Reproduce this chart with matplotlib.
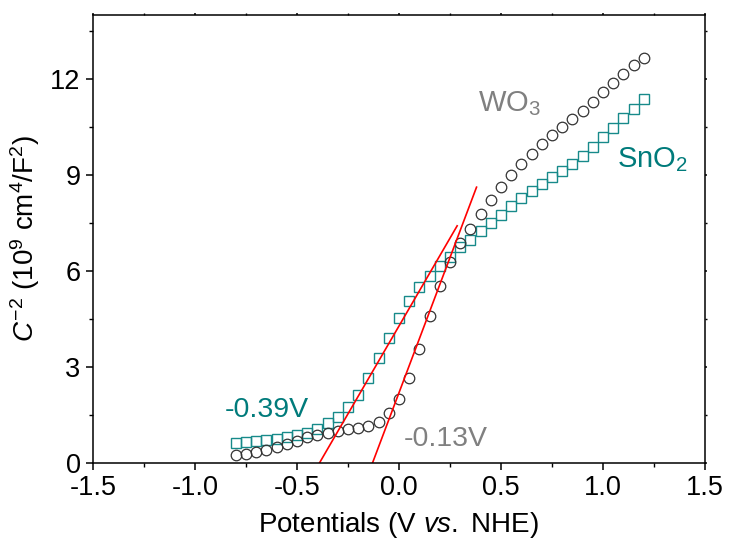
import numpy as np
import matplotlib
matplotlib.use("Agg")
import matplotlib.pyplot as plt
from matplotlib.ticker import MultipleLocator

plt.rcParams['font.family'] = ['Liberation Sans', 'DejaVu Sans']
plt.rcParams['mathtext.fontset'] = 'custom'
plt.rcParams['mathtext.rm'] = 'Liberation Sans'
plt.rcParams['mathtext.it'] = 'Liberation Sans:italic'

# Mott-Schottky data, potential vs NHE
potential = np.round(np.arange(-0.80, 1.2001, 0.05), 2)

wo3 = [0.25, 0.28, 0.33, 0.41, 0.51, 0.58, 0.69, 0.80, 0.87, 0.95,
       1.00, 1.05, 1.10, 1.16, 1.29, 1.55, 2.01, 2.65, 3.56, 4.59,
       5.53, 6.27, 6.88, 7.32, 7.79, 8.23, 8.64, 9.00, 9.34, 9.67,
       9.98, 10.25, 10.51, 10.76, 11.01, 11.29, 11.60, 11.86, 12.16, 12.43,
       12.67]

sno2 = [0.61, 0.65, 0.69, 0.72, 0.76, 0.82, 0.87, 0.95, 1.07, 1.24,
        1.45, 1.74, 2.13, 2.66, 3.27, 3.92, 4.52, 5.06, 5.49, 5.84,
        6.17, 6.45, 6.74, 6.97, 7.24, 7.50, 7.76, 8.02, 8.27, 8.51,
        8.72, 8.95, 9.12, 9.33, 9.58, 9.88, 10.18, 10.48, 10.77, 11.07,
        11.36]

# linear fits: x-intercept (flat band potential), slope, end of drawn segment
fb_sno2, slope_sno2, end_sno2 = -0.39, 10.98, 0.285
fb_wo3, slope_wo3, end_wo3 = -0.13, 16.9, 0.38

teal = '#178a8a'
teal_txt = '#007b7b'
grey = '#808080'

fig = plt.figure(figsize=(7.29, 5.47), dpi=100)
ax = fig.add_axes([0.1276, 0.1536, 0.8395, 0.819])

ax.plot(potential, sno2, ls='none', marker='s', ms=7.2, mfc='none',
        mec=teal, mew=1.0)
ax.plot(potential, wo3, ls='none', marker='o', ms=7.6, mfc='none',
        mec='#333333', mew=0.9)

xf = np.array([fb_sno2, end_sno2])
ax.plot(xf, slope_sno2 * (xf - fb_sno2), color='red', lw=1.2)
xf = np.array([fb_wo3, end_wo3])
ax.plot(xf, slope_wo3 * (xf - fb_wo3), color='red', lw=1.2)

ax.text(-0.853, 1.45, '-0.39V', color=teal_txt, fontsize=20.5,
        ha='left', va='baseline')
ax.text(0.025, 0.53, '-0.13V', color=grey, fontsize=20.5,
        ha='left', va='baseline')
ax.text(0.387, 10.98, r'WO$_3$', color=grey, fontsize=21,
        ha='left', va='baseline')
ax.text(1.07, 9.23, r'SnO$_2$', color=teal_txt, fontsize=21,
        ha='left', va='baseline')

ax.set_xlim(-1.5, 1.5)
ax.set_ylim(0, 14)
ax.xaxis.set_major_locator(MultipleLocator(0.5))
ax.xaxis.set_minor_locator(MultipleLocator(0.25))
ax.yaxis.set_major_locator(MultipleLocator(3))
ax.yaxis.set_minor_locator(MultipleLocator(1.5))
ax.xaxis.set_major_formatter(matplotlib.ticker.FormatStrFormatter('%.1f'))

for s in ax.spines.values():
    s.set_linewidth(1.1)
ax.tick_params(which='major', direction='out', length=5, width=1.1,
               labelsize=19.5, pad=4)
ax.tick_params(which='minor', direction='out', length=3, width=1.0)
ax.tick_params(which='both', top=True, right=True)
ax.tick_params(axis='x', which='both', top=True, labeltop=False)
# tiny marks on the mirrored spines
for t in ax.xaxis.get_major_ticks() + ax.xaxis.get_minor_ticks():
    t.tick2line.set_markersize(1.5)
for t in ax.yaxis.get_major_ticks() + ax.yaxis.get_minor_ticks():
    t.tick2line.set_markersize(1.5)

ax.set_xlabel(r'Potentials (V $\it{vs.}$ NHE)', fontsize=20, labelpad=6)
ax.set_ylabel(r'$C^{-2}$ (10$^{9}$ cm$^{4}$/F$^{2}$)', fontsize=20,
              labelpad=6)

fig.savefig('out.png', dpi=100)
